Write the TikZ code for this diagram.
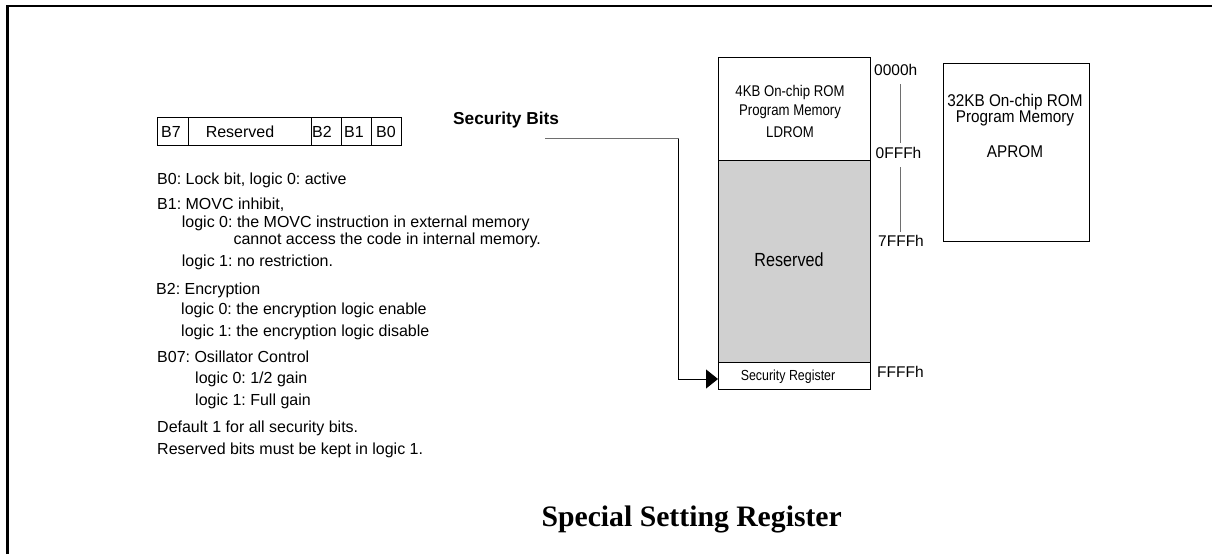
\documentclass[tikz,border=0pt]{standalone}
\usepackage{fontspec}
\setmainfont{Liberation Sans}
\newfontfamily\narrowfont[FakeStretch=0.85]{Liberation Sans}
\newfontfamily\widenarrowfont[FakeStretch=0.9]{Liberation Sans}
\newfontfamily\titlefont{Liberation Serif}
\usetikzlibrary{arrows.meta}
\definecolor{memgray}{RGB}{208,208,208}
\definecolor{linegray}{RGB}{110,110,110}
\frenchspacing
\tikzset{
  desc/.style={anchor=base west,inner sep=0pt,font=\fontsize{16}{19}\selectfont},
  cell/.style={draw,line width=0.8pt,anchor=north west,inner sep=0pt,minimum height=28pt},
  celltext/.style={anchor=base,inner sep=0pt,font=\fontsize{16}{19}\selectfont},
  membox/.style={draw,line width=0.8pt,anchor=north west,inner sep=0pt},
  memtext/.style={anchor=base,inner sep=0pt,font=\narrowfont\fontsize{15.5}{18}\selectfont},
  apromtext/.style={anchor=base,inner sep=0pt,font=\widenarrowfont\fontsize{17}{20}\selectfont},
  addr/.style={anchor=base west,inner sep=0pt,font=\fontsize{15.5}{18}\selectfont},
  tick/.style={draw=linegray,line width=0.8pt},
}
\begin{document}
\begin{tikzpicture}[x=1pt,y=-1pt]
\useasboundingbox (0,0) rectangle (1212,554);
% frame
\draw[line width=2.2pt] (7.5,554) -- (7.5,6) -- (1212,6);
% register table
\node[cell,minimum width=30.5pt] (c7) at (157,117) {};
\node[cell,minimum width=123pt] (cres) at (187.5,117) {};
\node[cell,minimum width=30.5pt] (c2) at (310.5,117) {};
\node[cell,minimum width=30pt] (c1) at (341,117) {};
\node[cell,minimum width=30pt] (c0) at (371,117) {};
\node[celltext] (t7) at (171,137.5) {B7};
\node[celltext] (tres) at (240,137.5) {Reserved};
\node[celltext] (t2) at (322,137.5) {B2};
\node[celltext] (t1) at (354,137.5) {B1};
\node[celltext] (t0) at (386,137.5) {B0};
% descriptions
\node[desc] (d1) at (157,184) {B0: Lock bit, logic 0: active};
\node[desc] (d2) at (157,209.5) {B1: MOVC inhibit,};
\node[desc] (d3) at (181.7,227.5) {logic 0: the MOVC instruction in external memory};
\node[desc] (d4) at (233.3,244) {cannot access the code in internal memory.};
\node[desc] (d5) at (181.7,266) {logic 1: no restriction.};
\node[desc] (d6) at (156,294) {B2: Encryption};
\node[desc] (d7) at (181,314) {logic 0: the encryption logic enable};
\node[desc] (d8) at (181,336.5) {logic 1: the encryption logic disable};
\node[desc] (d9) at (157,362.5) {B07: Osillator Control};
\node[desc] (d10) at (195,383) {logic 0: 1/2 gain};
\node[desc] (d11) at (195,405.5) {logic 1: Full gain};
\node[desc] (d12) at (157,432.5) {Default 1 for all security bits.};
\node[desc] (d13) at (157,454) {Reserved bits must be kept in logic 1.};
% security bits label
\node[anchor=base west,inner sep=0pt,font=\bfseries\fontsize{17.3}{20}\selectfont] (sb) at (453,124) {Security Bits};
% memory map
\node[membox,minimum width=152pt,minimum height=103pt] (ldrom) at (718,56.5) {};
\node[membox,fill=memgray,minimum width=152pt,minimum height=202pt] (resv) at (718,159.5) {};
\node[membox,minimum width=152pt,minimum height=27pt] (secreg) at (718,361.5) {};
\node[memtext] (l1) at (790,96.5) {4KB On-chip ROM};
\node[memtext] (l2) at (790,115) {Program Memory};
\node[memtext] (l3) at (790,137) {LDROM};
\node[anchor=base,inner sep=0pt,font=\narrowfont\fontsize{19}{22}\selectfont] (rt) at (789,266) {Reserved};
\node[anchor=base,inner sep=0pt,font=\narrowfont\fontsize{14.6}{17}\selectfont] (st) at (788,380) {Security Register};
% addresses
\node[addr] (a0) at (874,75.5) {0000h};
\node[addr] (a1) at (875.5,158) {0FFFh};
\node[addr] (a2) at (878,246.5) {7FFFh};
\node[addr] (a3) at (877,377.5) {FFFFh};
\draw[tick] (900.5,84) -- (900.5,142.5);
\draw[tick] (900.5,167) -- (900.5,231.5);
% APROM
\node[membox,minimum width=146pt,minimum height=178pt] (aprom) at (943,63) {};
\node[apromtext] (p1) at (1015,106.5) {32KB On-chip ROM};
\node[apromtext] (p2) at (1015,122.5) {Program Memory};
\node[apromtext] (p3) at (1015,157) {APROM};
% connector
\coordinate (sbstart) at (545,138.5);
\coordinate (sbtop) at (678.5,138.5);
\coordinate (sbbend) at (678.5,379);
\draw[linegray,line width=1pt] (sbstart) -- (sbtop);
\draw[line width=1pt,-{Triangle[length=12pt,width=19pt]}] (sbtop) -- (sbbend) -- (sbbend -| secreg.west);
% title
\node[anchor=base,inner sep=0pt,font=\titlefont\bfseries\fontsize{29.7}{34}\selectfont] (title) at (691.7,526) {Special Setting Register};
\end{tikzpicture}
\end{document}
